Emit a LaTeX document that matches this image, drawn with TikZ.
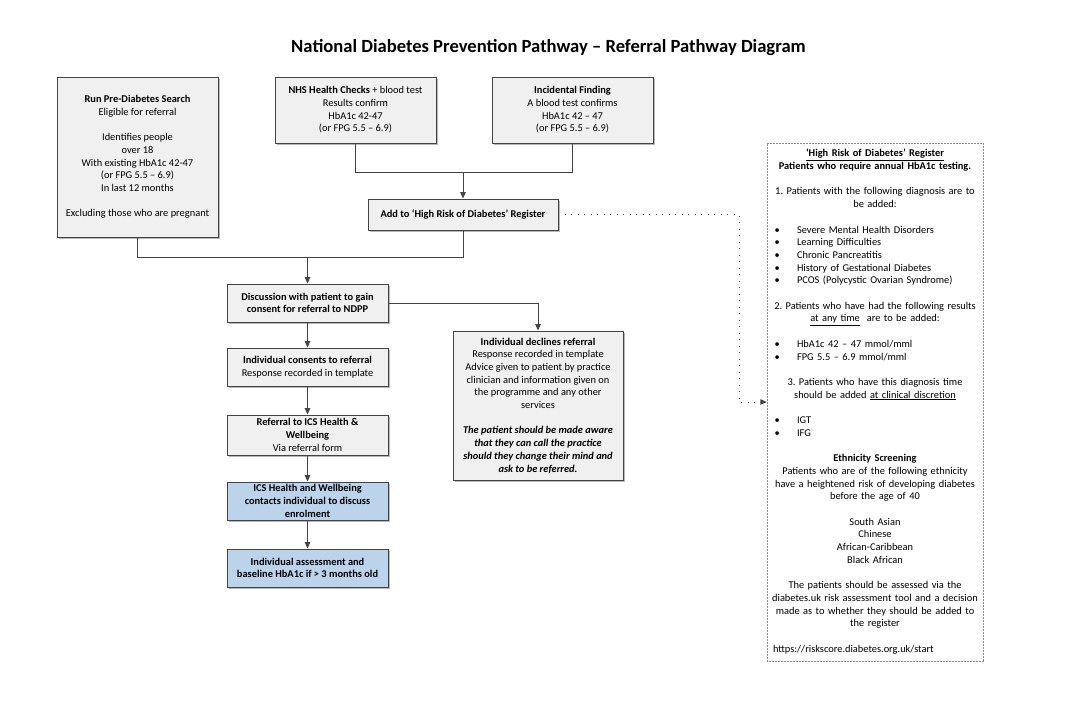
\documentclass[tikz,border=0pt]{standalone}
\usepackage{fontspec}
\setmainfont{Carlito}
\usetikzlibrary{arrows.meta,shadows}
\newcommand\fs{\fontsize{10.4}{12.7}\selectfont}
\definecolor{linec}{HTML}{444444}
\definecolor{boxfill}{HTML}{F0F0F0}
\definecolor{bluefill}{HTML}{BCD3EC}
\tikzset{
  box/.style={draw=linec, line width=0.9pt, fill=boxfill, align=center, font=\fs,
    inner sep=2pt, minimum width=161pt,
    drop shadow={shadow xshift=1.6pt, shadow yshift=-1.6pt, fill=black!40, opacity=0.7}},
  bluebox/.style={box, fill=bluefill},
  conn/.style={draw=linec, line width=1pt},
  arr/.style={conn, -{Triangle[length=6.5pt,width=5.5pt]}},
  dotarr/.style={draw=linec, line width=1pt, dash pattern=on 1pt off 5.5pt, -{Triangle[length=6.5pt,width=5.5pt]}},
  regbox/.style={draw=black!45, line width=0.5pt, dash pattern=on 0.6pt off 0.9pt, minimum width=216pt, minimum height=518pt},
  regtext/.style={align=center, text width=212pt, font=\fs, inner sep=0pt},
}
\newcommand\bul[1]{\makebox[212pt][l]{\makebox[28pt][l]{\hspace{5.5pt}\textbullet}#1}}
\begin{document}
\begin{tikzpicture}[x=1pt,y=-1pt]
\useasboundingbox (0,0) rectangle (1071,721);
\node[font=\fontsize{18.6}{22}\selectfont\bfseries] (title) at (548.5,48) {National Diabetes Prevention Pathway – Referral Pathway Diagram};

\node[box, minimum height=160pt] (pre) at (137.5,157) {\textbf{Run Pre-Diabetes Search}\\Eligible for referral\\[12.7pt]Identifies people\\over 18\\With existing HbA1c 42-47\\(or FPG 5.5 – 6.9)\\In last 12 months\\[12.7pt]Excluding those who are pregnant};
\node[box, minimum height=66pt] (nhs) at (355.5,110) {\textbf{NHS Health Checks} + blood test\\Results confirm\\HbA1c 42-47\\(or FPG 5.5 – 6.9)};
\node[box, minimum height=66pt] (inc) at (572.5,110) {\textbf{Incidental Finding}\\A blood test confirms\\HbA1c 42 – 47\\(or FPG 5.5 – 6.9)};
\node[box, minimum width=190pt, minimum height=31pt] (add) at (463,214.5) {\textbf{Add to ‘High Risk of Diabetes’ Register}};
\node[box, minimum height=38pt] (disc) at (307.5,303) {\textbf{Discussion with patient to gain}\\\textbf{consent for referral to NDPP}};
\node[box, minimum height=38pt] (cons) at (307.5,367) {\textbf{Individual consents to referral}\\Response recorded in template};
\node[box, minimum height=40pt] (ref) at (307.5,435) {\textbf{Referral to ICS Health \&}\\\textbf{Wellbeing}\\Via referral form};
\node[bluebox, minimum height=38pt] (ics) at (307.5,501) {\textbf{ICS Health and Wellbeing}\\\textbf{contacts individual to discuss}\\\textbf{enrolment}};
\node[bluebox, minimum height=38pt] (ass) at (307.5,568) {\textbf{Individual assessment and}\\\textbf{baseline HbA1c if > 3 months old}};
\node[box, minimum width=170pt, minimum height=149pt] (dec) at (538,405.5) {\textbf{Individual declines referral}\\Response recorded in template\\Advice given to patient by practice\\clinician and information given on\\the programme and any other\\services\\[12.7pt]\textbf{\textit{The patient should be made aware}}\\\textbf{\textit{that they can call the practice}}\\\textbf{\textit{should they change their mind and}}\\\textbf{\textit{ask to be referred.}}};

\node[regbox] (reg) at (875,402) {};
\node[regtext] (regt) at (875,401.5) {\textbf{\underline{‘High Risk of Diabetes’ Register}}\\
\textbf{Patients who require annual HbA1c testing.}\\[12.7pt]
1.\ Patients with the following diagnosis are to\\be added:\\[12.7pt]
\bul{Severe Mental Health Disorders}\\
\bul{Learning Difficulties}\\
\bul{Chronic Pancreatitis}\\
\bul{History of Gestational Diabetes}\\
\bul{PCOS (Polycystic Ovarian Syndrome)}\\[12.7pt]
2.\ Patients who have had the following results\\\underline{at any time}\ \ are to be added:\\[12.7pt]
\bul{HbA1c 42 – 47 mmol/mml}\\
\bul{FPG 5.5 – 6.9 mmol/mml}\\[12.7pt]
3.\ Patients who have this diagnosis time\\should be added \underline{at clinical discretion}\\[12.7pt]
\bul{IGT}\\
\bul{IFG}\\[12.7pt]
\textbf{Ethnicity Screening}\\
Patients who are of the following ethnicity\\have a heightened risk of developing diabetes\\before the age of 40\\[12.7pt]
South Asian\\Chinese\\African-Caribbean\\Black African\\[12.7pt]
The patients should be assessed via the\\diabetes.uk risk assessment tool and a decision\\made as to whether they should be added to\\the register\\[12.7pt]
\makebox[212pt][l]{\hspace{4pt}https://riskscore.diabetes.org.uk/start}};

\coordinate (j1) at (463,172);
\coordinate (j2) at (307.5,257);
\coordinate (j3) at (739,213);
\draw[conn] (nhs.south) |- (j1);
\draw[conn] (inc.south) |- (j1);
\draw[arr] (j1) -- (add.north);
\draw[conn] (pre.south) |- (j2);
\draw[conn] (add.south) |- (j2);
\draw[arr] (j2) -- (disc.north);
\draw[arr] (disc.east) -| (dec.north);
\draw[arr] (disc.south) -- (cons.north);
\draw[arr] (cons.south) -- (ref.north);
\draw[arr] (ref.south) -- (ics.north);
\draw[arr] (ics.south) -- (ass.north);
\draw[dotarr] (add.east) -- (add.east -| j3) -- (j3 |- reg.west) -- (reg.west);
\end{tikzpicture}
\end{document}
